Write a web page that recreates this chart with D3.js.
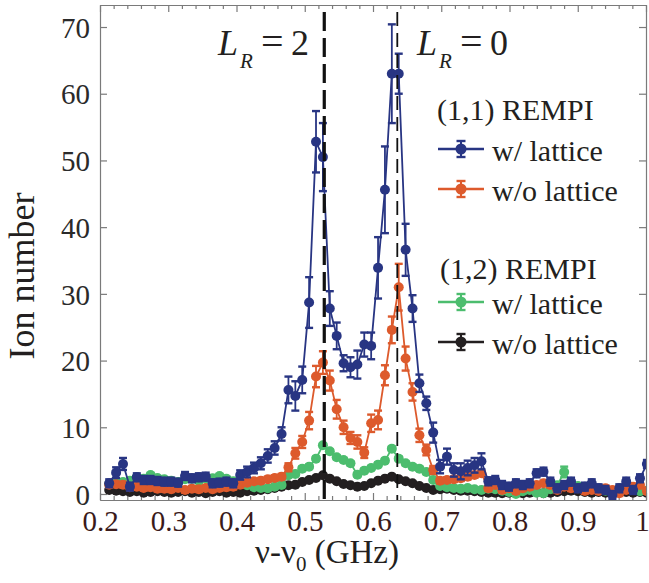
<!DOCTYPE html>
<html><head><meta charset="utf-8">
<script src="https://cdn.jsdelivr.net/npm/d3@7"></script>
<style>body{margin:0;background:#fff}</style>
</head><body>
<svg id="c" width="649" height="583"></svg>
<script>
// frequency grid (GHz)
const freq=[0.2135,0.2236,0.2337,0.2438,0.2539,0.2640,0.2741,0.2842,0.2943,0.3044,
0.3145,0.3246,0.3347,0.3448,0.3549,0.3650,0.3751,0.3852,0.3953,0.4054,
0.4155,0.4256,0.4357,0.4458,0.4559,0.4660,0.4761,0.4862,0.4963,0.5064,
0.5165,0.5266,0.5367,0.5468,0.5569,0.5670,0.5771,0.5872,0.5973,0.6074,
0.6175,0.6276,0.6377,0.6478,0.6579,0.6680,0.6781,0.6882,0.6983,0.7084,
0.7185,0.7286,0.7387,0.7488,0.7589,0.7690,0.7791,0.7892,0.7993,0.8094,
0.8195,0.8296,0.8397,0.8498,0.8599,0.8700,0.8801,0.8902,0.9003,0.9104,
0.9205,0.9306,0.9407,0.9508,0.9609,0.9710,0.9811,0.9912,1.0013];
// (1,1) REMPI w/ lattice
const rempi11Lattice=[1.6,3.2,4.5,1.1,2.5,2.1,2.1,1.95,1.85,1.85,
1.7,2.7,2.35,2.5,2.6,1.6,1.7,1.85,1.6,2.85,
3.3,3.9,4.6,5.7,6.9,9.0,15.6,14.7,17.1,28.7,
52.8,50.5,27.8,23.7,19.6,19.0,19.4,22.4,22.2,33.9,
45.6,63.0,63.0,36.6,27.8,16.6,13.6,9.2,4.1,5.6,
3.6,3.4,3.9,4.3,4.9,1.9,2.1,1.35,1.1,1.6,
1.35,1.6,3.1,3.35,1.85,0.85,1.35,1.85,0.85,1.1,
1.6,0.85,0.6,-0.15,0.85,1.85,0.6,2.35,4.5];
const rempi11LatticeErr=[0.6,0.8,0.9,0.6,0.6,0.6,0.6,0.6,0.6,0.6,
0.6,0.6,0.6,0.6,0.6,0.6,0.6,0.6,0.6,0.7,
0.8,0.8,0.9,1.0,1.0,1.0,2.0,2.2,2.0,3.8,
4.6,5.1,2.6,2.0,1.2,1.5,2.1,1.8,2.0,4.6,
6.5,7.4,3.0,3.9,2.0,1.3,1.0,1.5,1.0,1.2,
1.0,1.2,1.1,1.1,1.2,0.6,0.6,0.6,0.6,0.6,
0.6,0.6,0.6,0.6,0.6,0.6,0.6,0.6,0.6,0.6,
0.6,0.6,0.6,0.6,0.6,0.6,0.6,0.6,0.6];
// (1,1) REMPI w/o lattice
const rempi11NoLattice=[1.4,1.45,1.4,1.0,1.1,0.9,1.0,0.8,0.8,0.7,
0.9,0.6,0.8,0.7,0.9,0.7,0.9,1.0,1.1,1.4,
1.7,1.9,2.0,2.2,2.4,2.6,4.0,6.1,7.8,11.0,
17.6,19.7,17.0,12.7,10.0,8.4,7.8,6.2,10.6,11.1,
17.8,24.6,31.0,20.3,15.3,8.8,6.6,3.6,2.0,2.1,
2.2,2.35,2.6,2.85,3.1,0.85,1.35,0.6,0.85,0.45,
0.85,1.1,1.35,1.6,1.35,0.6,1.1,0.85,0.85,0.45,
0.6,0.45,0.85,0.6,0.1,0.6,1.1,1.35,0.45];
const rempi11NoLatticeErr=[0.4,0.4,0.4,0.4,0.4,0.4,0.4,0.4,0.4,0.4,
0.4,0.4,0.4,0.4,0.4,0.4,0.4,0.4,0.4,0.4,
0.4,0.4,0.4,0.4,0.4,0.4,0.6,0.8,0.9,1.3,
1.6,1.7,1.5,1.4,1.0,0.9,1.0,0.8,1.3,1.4,
1.5,2.0,3.5,1.8,1.3,1.0,0.8,0.6,0.4,0.4,
0.4,0.4,0.4,0.4,0.4,0.4,0.4,0.4,0.4,0.4,
0.4,0.4,0.4,0.4,0.4,0.4,0.4,0.4,0.4,0.4,
0.4,0.4,0.4,0.4,0.4,0.4,0.4,0.4,0.4];
// (1,2) REMPI w/ lattice
const rempi12Lattice=[1.5,1.6,1.8,2.0,2.5,2.3,2.85,2.4,2.2,2.0,
1.8,2.2,2.3,2.0,2.3,2.35,2.7,2.3,1.9,1.5,
1.3,1.0,0.9,0.85,1.1,1.35,2.8,3.0,3.8,4.1,
5.3,7.3,6.4,5.5,5.1,4.6,2.9,3.5,3.9,4.4,
5.0,6.8,5.3,4.6,4.1,3.8,3.3,2.1,1.2,1.0,
0.9,0.8,0.9,0.7,0.6,0.8,0.7,0.5,0.3,0.0,
0.4,0.6,0.2,0.1,0.7,1.3,3.3,1.6,1.2,1.0,
0.8,0.6,0.5,0.4,0.8,1.0,0.6,0.4,0.5];
const rempi12LatticeErr=[0.3,0.3,0.3,0.3,0.3,0.3,0.3,0.3,0.3,0.3,
0.3,0.3,0.3,0.3,0.3,0.3,0.3,0.3,0.3,0.3,
0.3,0.3,0.3,0.3,0.3,0.3,0.3,0.3,0.3,0.3,
0.3,0.3,0.3,0.3,0.3,0.3,0.3,0.3,0.3,0.3,
0.3,0.3,0.3,0.3,0.3,0.3,0.3,0.3,0.3,0.3,
0.3,0.3,0.3,0.3,0.3,0.3,0.3,0.3,0.3,0.3,
0.3,0.3,0.3,0.3,0.3,0.3,0.8,0.3,0.3,0.3,
0.3,0.3,0.3,0.3,0.3,0.3,0.3,0.3,0.3];
// (1,2) REMPI w/o lattice
const rempi12NoLattice=[0.6,0.5,0.4,0.3,0.4,0.2,0.3,0.4,0.3,0.2,
0.3,0.4,0.2,0.3,0.1,0.3,0.4,0.2,0.3,0.2,
0.4,0.5,0.6,0.7,0.9,1.1,1.3,1.4,1.8,2.1,
2.4,2.8,2.3,1.9,1.5,1.3,1.1,1.2,1.6,2.0,
2.3,2.6,2.2,1.9,1.6,1.2,0.9,0.6,0.7,0.8,
0.6,0.5,0.5,0.4,0.3,0.2,0.2,0.1,0.2,0.3,
0.1,0.2,0.3,0.1,0.2,0.3,0.4,0.5,0.4,0.3,
0.2,0.3,0.2,0.1,0.4,0.3,0.2,0.3,0.2];
const rempi12NoLatticeErr=rempi12NoLattice.map(()=>0.2);

const xTicks=[0.2,0.3,0.4,0.5,0.6,0.7,0.8,0.9,1.0];
const xTickLabels=["0.2","0.3","0.4","0.5","0.6","0.7","0.8","0.9","1"];
const xMinor=[0.22,0.24,0.26,0.28,0.32,0.34,0.36,0.38,0.42,0.44,0.46,0.48,0.52,0.54,0.56,0.58,0.62,0.64,0.66,0.68,0.72,0.74,0.76,0.78,0.82,0.84,0.86,0.88,0.92,0.94,0.96,0.98];
const yTicks=[0,10,20,30,40,50,60,70];
const resonances=[0.5286,0.6356];

const series=[
 {name:"w/o lattice",v:rempi12NoLattice,e:rempi12NoLatticeErr,c:"#231f20"},
 {name:"w/ lattice",v:rempi12Lattice,e:rempi12LatticeErr,c:"#4cbd6e"},
 {name:"w/o lattice",v:rempi11NoLattice,e:rempi11NoLatticeErr,c:"#dd5a2c"},
 {name:"w/ lattice",v:rempi11Lattice,e:rempi11LatticeErr,c:"#283583"}
];

const svg=d3.select('#c');
const x=d3.scaleLinear().domain([0.2,1.0]).range([100,646]);
const y=d3.scaleLinear().domain([-0.9,73.3]).range([500,5]);
const serif="'Liberation Serif','Times New Roman',serif";
const axisCol="#7a7a7a";

svg.append("defs").append("clipPath").attr("id","clip").append("rect")
 .attr("x",100).attr("y",5).attr("width",546).attr("height",495);

// axes
function styleAxis(g){g.selectAll("path").attr("stroke",axisCol).attr("stroke-width",1.2);
 g.selectAll("line").attr("stroke",axisCol).attr("stroke-width",1.2);}
const gb=svg.append("g").attr("transform","translate(0,500)")
 .call(d3.axisBottom(x).tickValues(xTicks).tickSize(-7).tickSizeOuter(0).tickFormat((d,i)=>xTickLabels[i]));
styleAxis(gb);
gb.selectAll("text").attr("y",31).attr("dy",0).attr("font-family",serif).attr("font-size",29).attr("fill","#3a1a1a")
 .attr("x",(d,i)=>i===xTicks.length-1?-4:0);
const gbm=svg.append("g").attr("transform","translate(0,500)")
 .call(d3.axisBottom(x).tickValues(xMinor).tickSize(-4).tickSizeOuter(0).tickFormat(""));
styleAxis(gbm);
const gt=svg.append("g").attr("transform","translate(0,5)")
 .call(d3.axisTop(x).tickValues(xTicks).tickSize(-7).tickSizeOuter(0).tickFormat(""));
styleAxis(gt);
const gtm=svg.append("g").attr("transform","translate(0,5)")
 .call(d3.axisTop(x).tickValues(xMinor).tickSize(-4).tickSizeOuter(0).tickFormat(""));
styleAxis(gtm);
const gl=svg.append("g").attr("transform","translate(100,0)")
 .call(d3.axisLeft(y).tickValues(yTicks).tickSize(-7).tickSizeOuter(0).tickFormat(d3.format("d")));
styleAxis(gl);
gl.selectAll("text").attr("x",-10).attr("dy","0.35em").attr("font-family",serif).attr("font-size",29).attr("fill","#2a2a2a");
const gr=svg.append("g").attr("transform","translate(646,0)")
 .call(d3.axisRight(y).tickValues(yTicks).tickSize(-7).tickSizeOuter(0).tickFormat(""));
styleAxis(gr);

// axis titles
const xt=svg.append("text").attr("x",327).attr("y",563).attr("text-anchor","middle")
 .attr("font-family",serif).attr("font-size",33).attr("fill","#231f20");
xt.append("tspan").text("ν-ν");
xt.append("tspan").attr("font-size",21).attr("dy",8).text("0");
xt.append("tspan").attr("dy",-8).text(" (GHz)");
svg.append("text").attr("transform","translate(34,276) rotate(-90)").attr("text-anchor","middle")
 .attr("font-family",serif).attr("font-size",36).attr("fill","#231f20").text("Ion number");

// data
const plot=svg.append("g").attr("clip-path","url(#clip)");
const line=d3.line().x((d,i)=>x(freq[i])).y(d=>y(d));
series.forEach(s=>{
 const g=plot.append("g");
 g.append("path").datum(s.v).attr("d",line).attr("fill","none").attr("stroke",s.c).attr("stroke-width",1.8);
 const eb=g.selectAll("g.eb").data(s.v).enter().append("g");
 eb.append("line").attr("x1",(d,i)=>x(freq[i])).attr("x2",(d,i)=>x(freq[i]))
  .attr("y1",(d,i)=>y(d-s.e[i])).attr("y2",(d,i)=>y(d+s.e[i])).attr("stroke",s.c).attr("stroke-width",1.8);
 [-1,1].forEach(sg=>{
  eb.append("line").attr("x1",(d,i)=>x(freq[i])-4).attr("x2",(d,i)=>x(freq[i])+4)
   .attr("y1",(d,i)=>y(d+sg*s.e[i])).attr("y2",(d,i)=>y(d+sg*s.e[i])).attr("stroke",s.c).attr("stroke-width",2.4);
 });
 g.selectAll("circle").data(s.v).enter().append("circle")
  .attr("cx",(d,i)=>x(freq[i])).attr("cy",d=>y(d)).attr("r",5).attr("fill",s.c);
});

// resonance dashed lines
svg.append("line").attr("x1",x(resonances[0])).attr("x2",x(resonances[0])).attr("y1",12).attr("y2",500)
 .attr("stroke","#111").attr("stroke-width",3.2).attr("stroke-dasharray","19,7");
svg.append("line").attr("x1",x(resonances[1])).attr("x2",x(resonances[1])).attr("y1",12).attr("y2",500)
 .attr("stroke","#111").attr("stroke-width",1.8).attr("stroke-dasharray","14,7");

// L_R annotations
function lr(x0,val){
 const g=svg.append("g").attr("font-family",serif).attr("fill","#231f20");
 g.append("text").attr("x",x0).attr("y",55).attr("font-size",36).attr("font-style","italic").text("L");
 g.append("text").attr("x",x0+22).attr("y",68).attr("font-size",21).attr("font-style","italic").text("R");
 g.append("text").attr("x",x0+43).attr("y",55).attr("font-size",40).text("=");
 g.append("text").attr("x",x0+73).attr("y",55).attr("font-size",36).text(val);
}
lr(218,"2");
lr(417,"0");

// legend
const lg=svg.append("g").attr("font-family",serif).attr("fill","#231f20");
lg.append("text").attr("x",437).attr("y",120).attr("font-size",30).text("(1,1) REMPI");
lg.append("text").attr("x",440).attr("y",279).attr("font-size",30).text("(1,2) REMPI");
const rows=[{s:series[3],y:149},{s:series[2],y:189},{s:series[1],y:302},{s:series[0],y:342}];
rows.forEach(r=>{
 const c=r.s.c;
 lg.append("line").attr("x1",438).attr("x2",484).attr("y1",r.y).attr("y2",r.y).attr("stroke",c).attr("stroke-width",2.5);
 lg.append("line").attr("x1",461).attr("x2",461).attr("y1",r.y-8).attr("y2",r.y+8).attr("stroke",c).attr("stroke-width",2);
 lg.append("line").attr("x1",456.5).attr("x2",465.5).attr("y1",r.y-8).attr("y2",r.y-8).attr("stroke",c).attr("stroke-width",2.4);
 lg.append("line").attr("x1",456.5).attr("x2",465.5).attr("y1",r.y+8).attr("y2",r.y+8).attr("stroke",c).attr("stroke-width",2.4);
 lg.append("circle").attr("cx",461).attr("cy",r.y).attr("r",5.5).attr("fill",c);
 lg.append("text").attr("x",492).attr("y",r.y+12).attr("font-size",30).text(r.s.name);
});
</script>
</body></html>
